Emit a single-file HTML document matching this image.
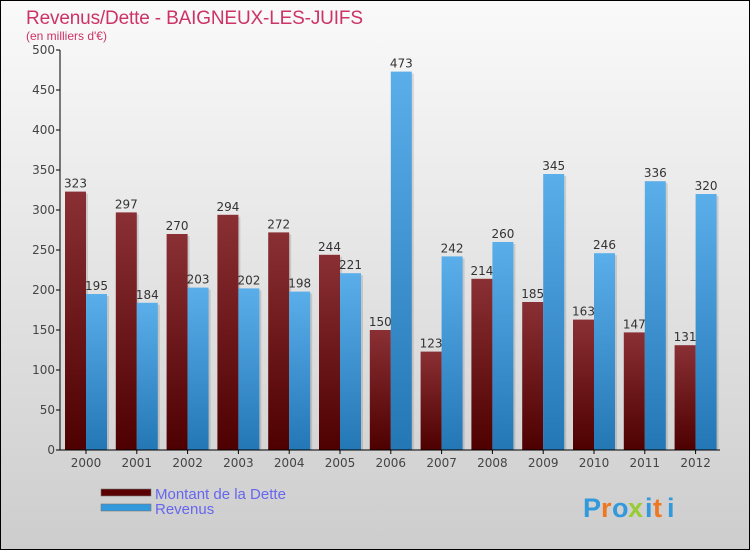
<!DOCTYPE html>
<html><head><meta charset="utf-8"><style>
body{margin:0;}
svg{display:block;font-family:"DejaVu Sans","Liberation Sans",sans-serif;}
</style></head><body>
<svg id="chart" width="750" height="550" xmlns="http://www.w3.org/2000/svg">
<defs>
<linearGradient id="bg" x1="0" y1="0" x2="0" y2="1"><stop offset="0" stop-color="#fafafa"/><stop offset="1" stop-color="#cdcdcd"/></linearGradient>
<linearGradient id="gd" x1="0" y1="0" x2="0" y2="1"><stop offset="0" stop-color="#8a3035"/><stop offset="1" stop-color="#4e0000"/></linearGradient>
<linearGradient id="gr" x1="0" y1="0" x2="0" y2="1"><stop offset="0" stop-color="#5aaeea"/><stop offset="1" stop-color="#2477b5"/></linearGradient>
</defs>
<rect x="0.5" y="0.5" width="749" height="549" fill="url(#bg)" stroke="#000"/>
<text x="26" y="24" font-size="19" fill="#cc3366" font-family="Liberation Sans, sans-serif" textLength="337">Revenus/Dette - BAIGNEUX-LES-JUIFS</text>
<text x="26" y="40" font-size="12" fill="#cc3366" font-family="Liberation Sans, sans-serif">(en milliers d'€)</text>
<g id="plot"></g>
<g>
<rect x="101" y="489" width="50" height="7" fill="#5a0000" stroke="#777" stroke-width="0.6"/>
<text x="155" y="499" font-size="15" fill="#6666ee" font-family="Liberation Sans, sans-serif">Montant de la Dette</text>
<rect x="101" y="504" width="50" height="7" fill="#3399dd" stroke="#777" stroke-width="0.6"/>
<text x="155" y="514" font-size="15" fill="#6666ee" font-family="Liberation Sans, sans-serif">Revenus</text>
</g>
<g font-size="27" font-weight="bold" font-family="Liberation Sans, sans-serif">
<text x="583" y="517" fill="#3399dd">P</text><text x="601" y="517" fill="#ee7722">r</text><text x="612" y="517" fill="#3399dd">o</text><text x="628" y="517" fill="#99cc33">x</text><text x="645" y="517" fill="#3399dd">i</text><text x="653" y="517" fill="#ee7722">t</text><text x="667" y="517" fill="#3399dd">i</text>
</g>
</svg>
<script>
const years=["2000","2001","2002","2003","2004","2005","2006","2007","2008","2009","2010","2011","2012"];
const dette=[323,297,270,294,272,244,150,123,214,185,163,147,131];
const revenus=[195,184,203,202,198,221,473,242,260,345,246,336,320];
const yTicks=[0,50,100,150,200,250,300,350,400,450,500];
const NS="http://www.w3.org/2000/svg";
const g=document.getElementById('plot');
const x0=60,step=50.8,y0=450,yScale=v=>y0-v*0.8,bw=21;
function el(t,a,txt){const e=document.createElementNS(NS,t);for(const k in a)e.setAttribute(k,a[k]);if(txt!==undefined)e.textContent=txt;g.appendChild(e);return e;}
yTicks.forEach(v=>{
 const y=yScale(v);
 const t=el('line',{x1:x0-4,x2:x0,y1:y,y2:y,stroke:'#000'});
 
 const l=el('text',{x:x0-5,y:y+4,'font-size':12,'text-anchor':'end',fill:'#444'},String(v));
 
});
years.forEach((yr,i)=>{
 const gx=x0+i*step+5;
 [[dette[i],'url(#gd)',gx,'bar-dette'],[revenus[i],'url(#gr)',gx+bw,'bar-revenus']].forEach(([v,f,x,n])=>{
  const y=yScale(v);
  const s=el('rect',{x:x+bw-1,y:y+2,width:3,height:y0-y-2,fill:'#000','fill-opacity':0.12});
  
  const r=el('rect',{x:x,y:y,width:bw,height:y0-y,fill:f});
  
  const t=el('text',{x:x+bw/2,y:y-4,'font-size':12,'text-anchor':'middle',fill:'#333'},String(v));
  
 });
 const cx=gx+bw;
 const tk=el('line',{x1:cx,x2:cx,y1:y0,y2:y0+4,stroke:'#000'});
 
 const xl=el('text',{x:cx,y:y0+17,'font-size':12,'text-anchor':'middle',fill:'#444'},yr);
 
});
const ya=el('line',{x1:x0,x2:x0,y1:yScale(500),y2:y0,stroke:'#000'});

const xa=el('line',{x1:x0,x2:720,y1:y0,y2:y0,stroke:'#000'});

</script>
</body></html>
